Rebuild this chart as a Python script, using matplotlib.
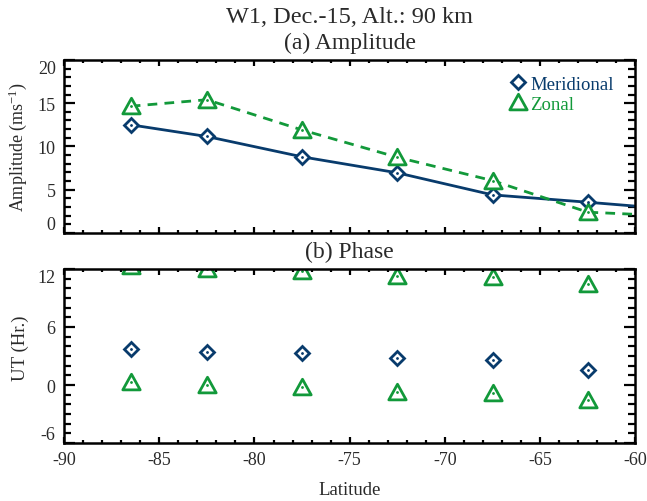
import matplotlib
matplotlib.use("Agg")
import matplotlib.pyplot as plt
from matplotlib.lines import Line2D
from matplotlib.path import Path
from matplotlib.ticker import MultipleLocator

plt.rcParams['font.family'] = ['Liberation Serif', 'DejaVu Serif']
plt.rcParams['mathtext.fontset'] = 'custom'
plt.rcParams['mathtext.rm'] = 'Liberation Serif'
plt.rcParams['mathtext.it'] = 'Liberation Serif:italic'
plt.rcParams['axes.unicode_minus'] = False

# Latitude bins of the fitted tide
latitude = [-86.5, -82.5, -77.5, -72.5, -67.5, -62.5]
# the amplitude curves carry one more bin beyond the plotted range
latitude_ext = [-86.5, -82.5, -77.5, -72.5, -67.5, -62.5, -57.5]

merid_amp = [12.5, 11.15, 8.8, 6.95, 4.4, 3.55, 2.65]
zonal_amp = [14.65, 15.4, 11.9, 8.75, 6.05, 2.4, 1.9]

merid_phase = [3.73, 3.38, 3.34, 2.80, 2.62, 1.52]
zonal_phase = [0.33, 0.04, -0.24, -0.72, -0.82, -1.55]
zonal_phase_wrap = [12.33, 12.04, 11.76, 11.28, 11.18, 10.45]

xticks = [-90, -85, -80, -75, -70, -65, -60]
amp_ticks = [0, 5, 10, 15, 20]
phase_ticks = [-6, 0, 6, 12]

navy = '#083b6c'
green = '#12993a'
textc = '#2a2a2a'

tri = Path([(-1.0, -0.85), (1.0, -0.85), (0.0, 0.95), (-1.0, -0.85)],
           [Path.MOVETO, Path.LINETO, Path.LINETO, Path.CLOSEPOLY])

left, width = 0.099, 0.883
fig = plt.figure(figsize=(6.47, 5.02), dpi=100)
ax1 = fig.add_axes([left, 0.534, width, 0.3446])
ax2 = fig.add_axes([left, 0.1155, width, 0.3467])

dmk = dict(marker='D', ms=6.8, mfc='white', mec=navy, mew=2.0)
tmk = dict(marker=tri, ms=12.5, mfc='white', mec=green, mew=2.0)

# (a) amplitude
ax1.plot(latitude_ext, merid_amp, color=navy, lw=2.0, **dmk)
ax1.plot(latitude_ext, zonal_amp, color=green, lw=2.0,
         linestyle=(0, (3.5, 2.6)), **tmk)
ax1.plot(latitude_ext, merid_amp, ls='none', marker='.', ms=2, color=navy)
ax1.plot(latitude_ext, zonal_amp, ls='none', marker='.', ms=2, color=green)

# (b) phase
ax2.plot(latitude, merid_phase, ls='none', **dmk)
ax2.plot(latitude, zonal_phase, ls='none', **tmk)
ax2.plot(latitude, zonal_phase_wrap, ls='none', **tmk)
for vals, c in ((merid_phase, navy), (zonal_phase, green), (zonal_phase_wrap, green)):
    ax2.plot(latitude, vals, ls='none', marker='.', ms=2, color=c)

for ax in (ax1, ax2):
    ax.set_xlim(-90, -60)
    ax.set_xticks(xticks)
    ax.xaxis.set_minor_locator(MultipleLocator(1))
    ax.yaxis.set_minor_locator(MultipleLocator(1))
    ax.tick_params(which='both', direction='in', top=True, right=True,
                   labelsize=13, width=1.6, pad=6, labelcolor=textc)
    ax.tick_params(axis='y', which='major', length=8)
    ax.tick_params(axis='y', which='minor', length=5)
    ax.tick_params(axis='x', which='major', length=4)
    ax.tick_params(axis='x', which='minor', length=2)
    for s in ax.spines.values():
        s.set_linewidth(1.8)

ax1.set_ylim(0, 20)
ax1.set_yticks(amp_ticks)
ax1.tick_params(axis='x', labelbottom=False)
ax1.set_ylabel('Amplitude (ms$^{-1}$)', fontsize=13, color=textc)
ax1.yaxis.set_label_coords(-0.062, 0.5)

ax2.set_ylim(-6, 12)
ax2.set_yticks(phase_ticks)
ax2.set_xticklabels([str(v) for v in xticks])
ax2.set_xlabel('Latitude', fontsize=13.5, labelpad=9, color=textc)
ax2.set_ylabel('UT (Hr.)', fontsize=13.5, color=textc)
ax2.yaxis.set_label_coords(-0.062, 0.55)

# keep the end labels inside the frame
for ax in (ax1, ax2):
    labs = ax.get_yticklabels()
    labs[0].set_va('bottom')
    labs[-1].set_va('top')

handles = [Line2D([], [], ls='none', **dmk), Line2D([], [], ls='none', **tmk)]
leg = ax1.legend(handles, ['Meridional', 'Zonal'], loc='upper right',
                 bbox_to_anchor=(0.985, 0.985), frameon=False, fontsize=13.5,
                 handlelength=0.7, handletextpad=0.3, labelspacing=0.15,
                 borderpad=0.2)
for t, c in zip(leg.get_texts(), (navy, green)):
    t.set_color(c)

xc = left + width / 2
fig.text(xc, 0.966, 'W1, Dec.-15, Alt.: 90 km', ha='center', va='center',
         fontsize=17.5, color=textc)
fig.text(xc, 0.913, '(a) Amplitude', ha='center', va='center',
         fontsize=17, color=textc)
fig.text(xc, 0.497, '(b) Phase', ha='center', va='center',
         fontsize=17, color=textc)

fig.savefig('out.png', dpi=100)
